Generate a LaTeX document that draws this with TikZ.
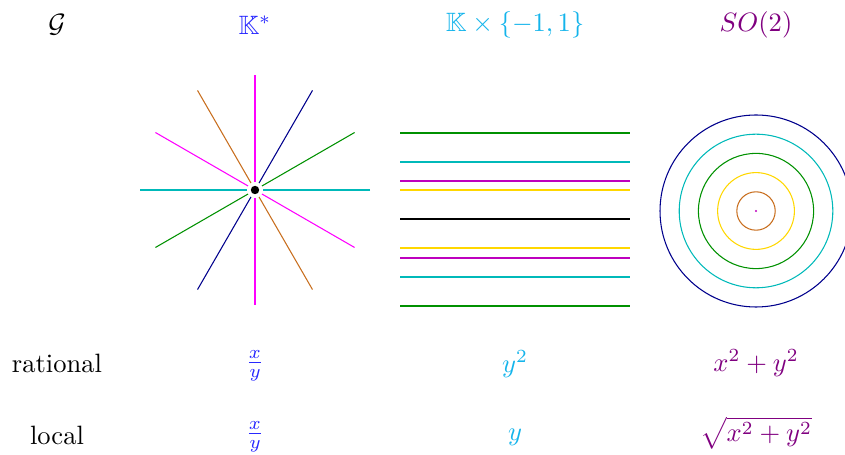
\documentclass[tikz,border=0pt]{standalone}
\usepackage{amssymb}
\usetikzlibrary{calc}
\definecolor{cK}{RGB}{40,40,255}
\definecolor{cKx}{RGB}{20,180,235}
\definecolor{cSO}{RGB}{128,0,128}
\definecolor{lmag}{RGB}{255,0,255}
\definecolor{lmag2}{RGB}{190,0,190}
\definecolor{lnavy}{RGB}{0,0,140}
\definecolor{lgreen}{RGB}{0,145,0}
\definecolor{lorange}{RGB}{200,110,30}
\definecolor{lteal}{RGB}{0,185,185}
\definecolor{lyellow}{RGB}{255,215,0}
\tikzset{
  lbl/.style={inner sep=0pt, anchor=center},
  thinline/.style={line width=0.4pt},
}
\begin{document}
\begin{tikzpicture}[x=0.377pt,y=-0.377pt]
\useasboundingbox (0,0) rectangle (845,455);
% header row
\node[lbl] (hG) at (57,25) {$\mathcal{G}$};
\node[lbl, text=cK] (hK) at (255,25) {$\mathbb{K}^*$};
\node[lbl, text=cKx] (hKx) at (515,25) {$\mathbb{K}\times\{-1,1\}$};
\node[lbl, text=cSO] (hSO) at (756,25) {$SO(2)$};
% rational row
\node[lbl] (rR) at (57,363) {rational};
\node[lbl, text=cK] (rK) at (255,366) {$\frac{x}{y}$};
\node[lbl, text=cKx] (rKx) at (515,364) {$y^2$};
\node[lbl, text=cSO] (rSO) at (756,363) {$x^2+y^2$};
% local row
\node[lbl] (lR) at (57,435) {local};
\node[lbl, text=cK] (lK) at (255,437) {$\frac{x}{y}$};
\node[lbl, text=cKx] (lKx) at (515,437) {$y$};
\node[lbl, text=cSO] (lSO) at (756,433) {$\sqrt{x^2+y^2}$};
% star
\coordinate (sc) at (255,190);
\foreach \a/\c in {0/lteal,30/lmag,-30/lgreen,60/lorange,-60/lnavy,90/lmag}{
  \draw[thinline, \c] ($(sc)+(\a:115)$) -- ($(sc)+(\a+180:115)$);
}
\fill[white] (sc) circle[radius=8];
\fill[black] (sc) circle[radius=4.2];
% horizontal lines
\foreach \y/\c in {133/lgreen,162/lteal,181/lmag2,190/lyellow,248/lyellow,258/lmag2,277/lteal,306/lgreen}{
  \draw[thinline, \c] (400,\y) -- (630,\y);
}
\draw[black, line width=0.7pt] (400,219) -- (630,219);
% circles
\coordinate (cc) at (756,211);
\foreach \r/\c in {19.2/lorange,38.4/lyellow,57.6/lgreen,76.8/lteal,96/lnavy}{
  \draw[thinline, \c] (cc) circle[radius=\r];
}
\fill[lmag2] (cc) circle[radius=1.2];
\end{tikzpicture}
\end{document}
